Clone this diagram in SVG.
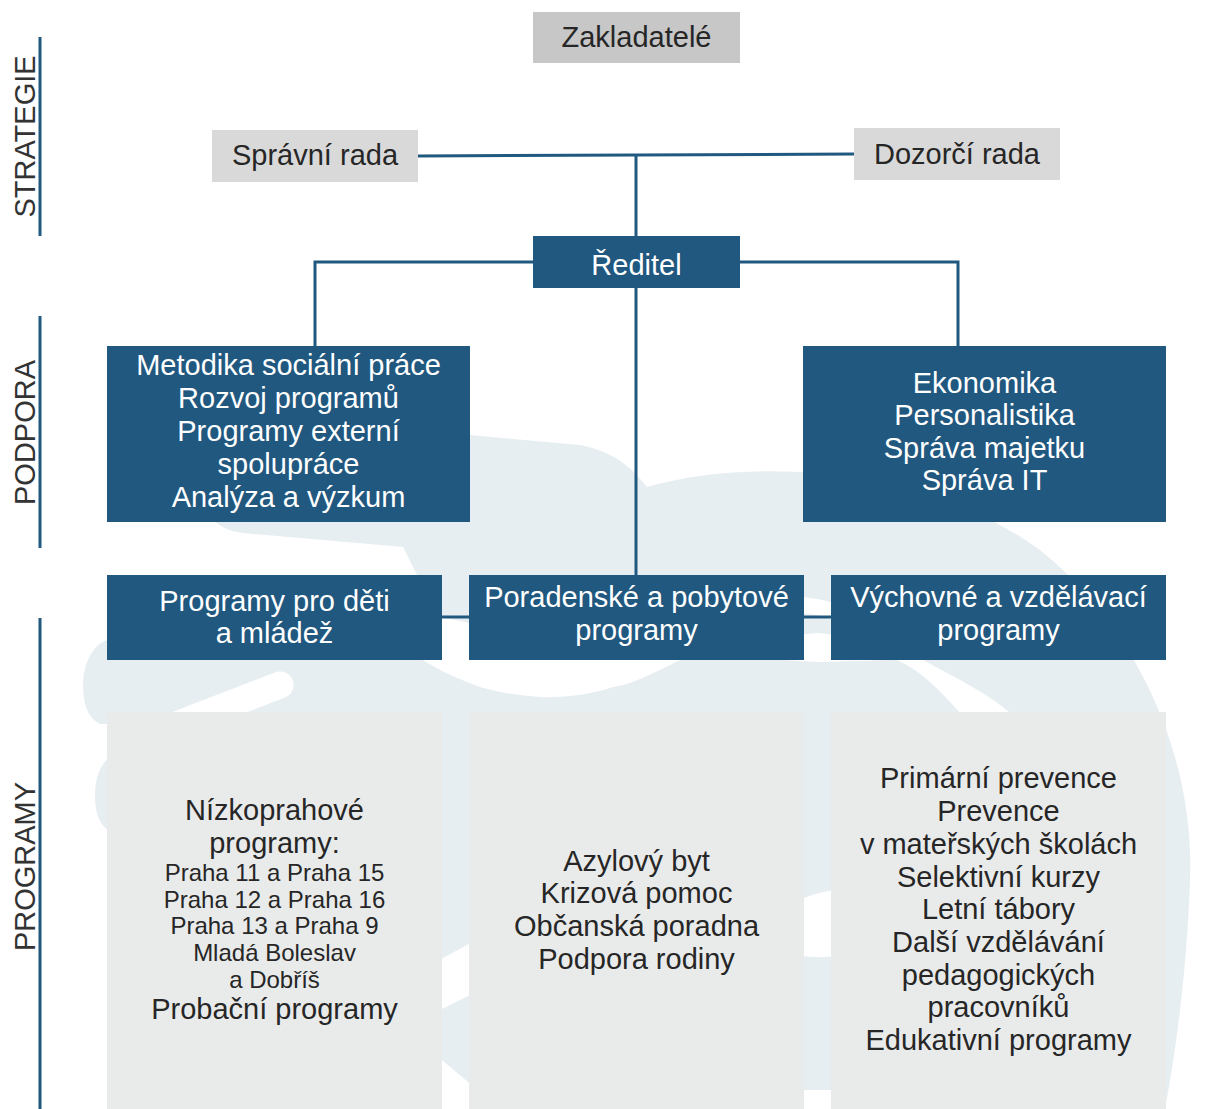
<svg xmlns="http://www.w3.org/2000/svg" width="1223" height="1109" viewBox="0 0 1223 1109">
<style>
text{font-family:"Liberation Sans",Arial,sans-serif;text-anchor:middle}
.t{font-size:29px}
.s{font-size:24px}
.w{fill:#ffffff}
.d{fill:#262626}
.lbl{font-size:29px;fill:#333333}
.blue{fill:#21587f}
.g1{fill:#c6c7c6}
.g2{fill:#d9d9d9}
.g3{fill:#e9ebeb}
.conn{stroke:#21587f;stroke-width:3;fill:none}
.wm{fill:#e7eef2}
.wh{fill:#ffffff}
</style>
<rect width="1223" height="1109" fill="#ffffff"/>
<g id="watermark">
<path class="wm" d="M 215,425 L 470,435 L 580,445 C 615,452 632,468 647,487 C 760,455 930,470 1040,550 C 1140,630 1195,760 1190,880 C 1187,970 1176,1050 1165,1109 L 500,1109 L 430,1050 L 400,660 L 417,575 L 403,547 L 243,533 C 222,530 210,522 208,505 L 208,440 C 208,430 210,425 215,425 Z"/>
<path class="wm" d="M 107,640 C 92,645 83,665 83,685 C 83,705 88,718 100,724 L 440,724 L 440,640 Z"/>
<path class="wm" d="M 110,757 C 99,765 95,780 95,795 C 95,815 100,825 110,832 L 440,832 L 440,757 Z"/>
<line x1="150" y1="735" x2="280" y2="685" stroke="#ffffff" stroke-width="27" stroke-linecap="round"/>
<path class="wh" d="M 385,603 C 420,612 470,625 560,640 C 640,648 740,640 818,633 C 860,636 895,645 923,660 C 960,680 990,695 1010,713 L 1060,800 L 1010,800 L 960,713 C 940,690 920,670 897,660 C 870,660 840,662 818,662 C 760,660 720,650 680,660 C 650,675 630,685 613,687 C 590,695 560,698 540,697 C 510,695 490,690 480,687 C 455,678 435,668 423,660 C 410,640 395,615 385,603 Z"/>
<path d="M 770,604 Q 845,600 905,650" stroke="#ffffff" stroke-width="16" fill="none"/>
<path class="wh" d="M 800,900 C 815,893 830,890 840,890 L 840,955 C 825,958 812,958 800,955 Z"/>
<rect class="wh" x="800" y="1090" width="40" height="19"/>
<path class="wh" d="M 430,965 L 480,938 L 480,990 L 430,1015 Z"/>
</g>
<g id="section-lines">
<line class="conn" x1="40" y1="37" x2="40" y2="236"/>
<line class="conn" x1="40" y1="316" x2="40" y2="548"/>
<line class="conn" x1="40" y1="618" x2="40" y2="1109"/>
<text class="lbl" transform="translate(35,136.5) rotate(-90)">STRATEGIE</text>
<text class="lbl" transform="translate(35,432.5) rotate(-90)">PODPORA</text>
<text class="lbl" transform="translate(35,866.5) rotate(-90)">PROGRAMY</text>
</g>
<g id="connectors">
<line class="conn" x1="418" y1="156" x2="854" y2="154"/>
<line class="conn" x1="636" y1="155" x2="636" y2="236"/>
<polyline class="conn" points="533,262 315,262 315,346"/>
<polyline class="conn" points="740,262 958,262 958,346"/>
<line class="conn" x1="636" y1="288" x2="636" y2="575"/>
<line class="conn" x1="442" y1="617" x2="469" y2="617"/>
<line class="conn" x1="804" y1="617" x2="831" y2="617"/>
</g>
<g id="zakladatele">
<rect class="g1" x="533" y="12" width="207" height="51"/>
<text class="t d" x="636.5" y="47">Zakladatelé</text>
</g>
<g id="spravni-rada">
<rect class="g2" x="212" y="130" width="206" height="52"/>
<text class="t d" x="315" y="165">Správní rada</text>
</g>
<g id="dozorci-rada">
<rect class="g2" x="854" y="128" width="206" height="52"/>
<text class="t d" x="957" y="164">Dozorčí rada</text>
</g>
<g id="reditel">
<rect class="blue" x="533" y="236" width="207" height="52"/>
<text class="t w" x="636.5" y="275">Ředitel</text>
</g>
<g id="podpora-metodika">
<rect class="blue" x="107" y="346" width="363" height="176"/>
<text class="t w" x="288.5" y="375">Metodika sociální práce</text>
<text class="t w" x="288.5" y="408">Rozvoj programů</text>
<text class="t w" x="288.5" y="441">Programy externí</text>
<text class="t w" x="288.5" y="474">spolupráce</text>
<text class="t w" x="288.5" y="507">Analýza a výzkum</text>
</g>
<g id="podpora-ekonomika">
<rect class="blue" x="803" y="346" width="363" height="176"/>
<text class="t w" x="984.5" y="392.5">Ekonomika</text>
<text class="t w" x="984.5" y="425">Personalistika</text>
<text class="t w" x="984.5" y="457.5">Správa majetku</text>
<text class="t w" x="984.5" y="490">Správa IT</text>
</g>
<g id="programy-deti">
<rect class="blue" x="107" y="575" width="335" height="85"/>
<text class="t w" x="274.5" y="611">Programy pro děti</text>
<text class="t w" x="274.5" y="643">a mládež</text>
</g>
<g id="programy-poradenske">
<rect class="blue" x="469" y="575" width="335" height="85"/>
<text class="t w" x="636.5" y="607">Poradenské a pobytové</text>
<text class="t w" x="636.5" y="640">programy</text>
</g>
<g id="programy-vychovne">
<rect class="blue" x="831" y="575" width="335" height="85"/>
<text class="t w" x="998.5" y="607">Výchovné a vzdělávací</text>
<text class="t w" x="998.5" y="640">programy</text>
</g>
<g id="seznam-deti">
<rect class="g3" x="107" y="712" width="335" height="397"/>
<text class="t d" x="274.5" y="820">Nízkoprahové</text>
<text class="t d" x="274.5" y="852.5">programy:</text>
<text class="s d" x="274.5" y="880.5">Praha 11 a Praha 15</text>
<text class="s d" x="274.5" y="907.5">Praha 12 a Praha 16</text>
<text class="s d" x="274.5" y="934.3">Praha 13 a Praha 9</text>
<text class="s d" x="274.5" y="961">Mladá Boleslav</text>
<text class="s d" x="274.5" y="987.7">a Dobříš</text>
<text class="t d" x="274.5" y="1019.3">Probační programy</text>
</g>
<g id="seznam-poradenske">
<rect class="g3" x="469" y="712" width="335" height="397"/>
<text class="t d" x="636.5" y="870.5">Azylový byt</text>
<text class="t d" x="636.5" y="903.3">Krizová pomoc</text>
<text class="t d" x="636.5" y="936">Občanská poradna</text>
<text class="t d" x="636.5" y="969">Podpora rodiny</text>
</g>
<g id="seznam-vychovne">
<rect class="g3" x="831" y="712" width="335" height="397"/>
<text class="t d" x="998.5" y="787.7">Primární prevence</text>
<text class="t d" x="998.5" y="821">Prevence</text>
<text class="t d" x="998.5" y="853.5">v mateřských školách</text>
<text class="t d" x="998.5" y="886.5">Selektivní kurzy</text>
<text class="t d" x="998.5" y="919.3">Letní tábory</text>
<text class="t d" x="998.5" y="952">Další vzdělávání</text>
<text class="t d" x="998.5" y="984.5">pedagogických</text>
<text class="t d" x="998.5" y="1017.3">pracovníků</text>
<text class="t d" x="998.5" y="1050">Edukativní programy</text>
</g>
</svg>
